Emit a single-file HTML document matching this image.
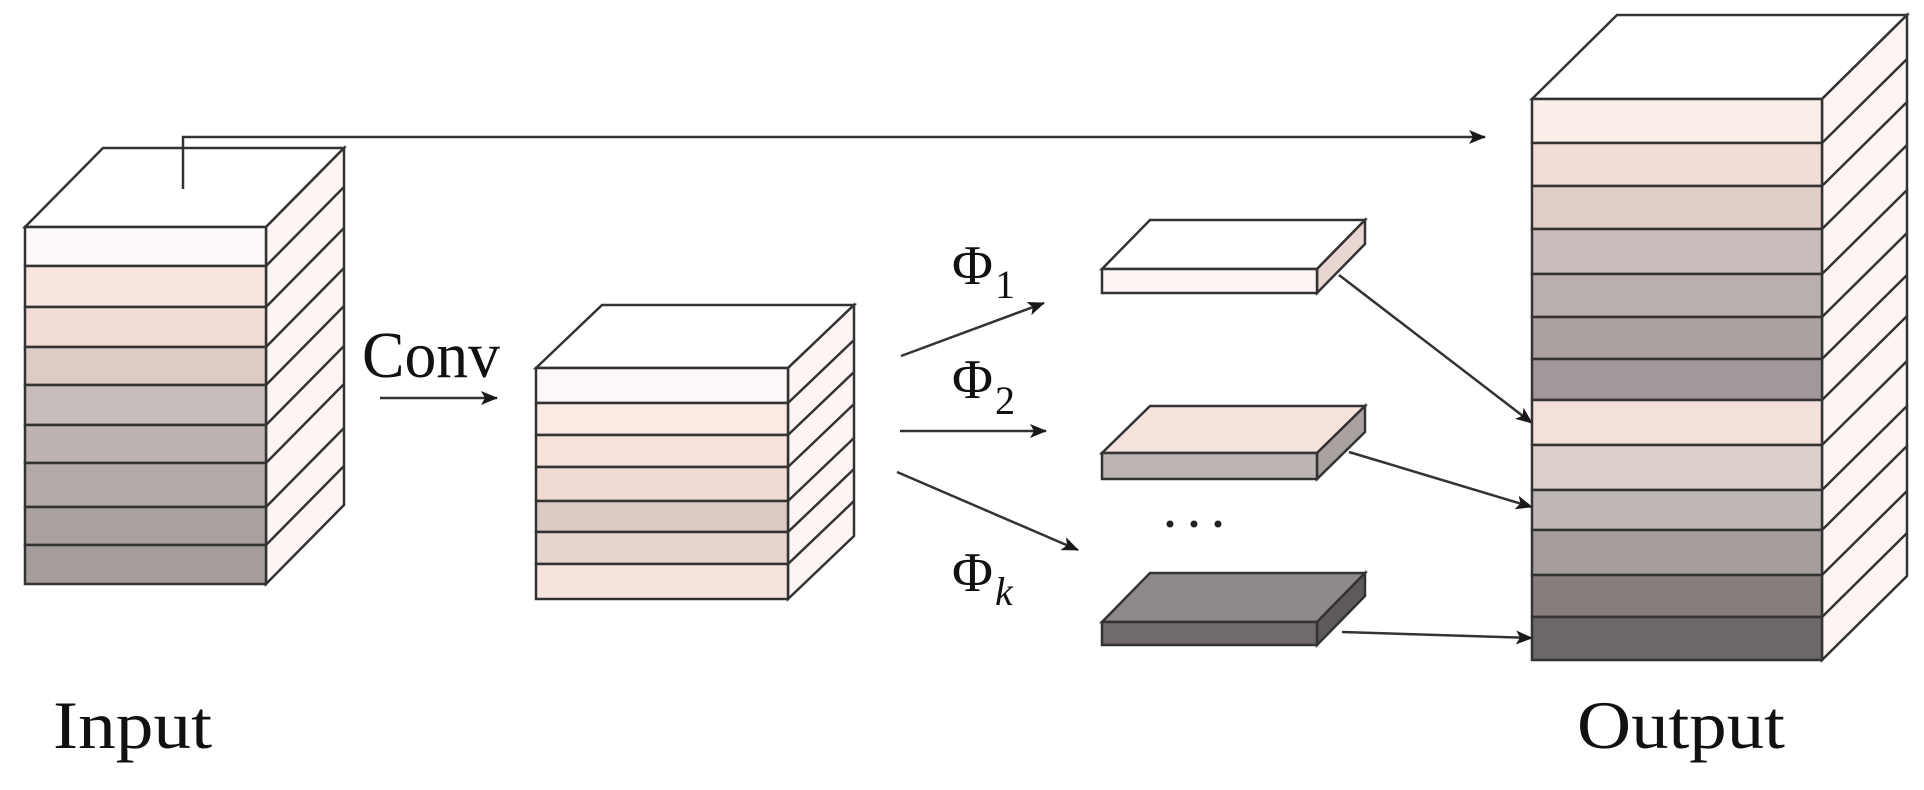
<!DOCTYPE html>
<html><head><meta charset="utf-8"><style>html,body{margin:0;padding:0;background:#fff}svg{display:block}</style></head>
<body>
<svg width="1924" height="790" viewBox="0 0 1924 790" xmlns="http://www.w3.org/2000/svg">
<defs>
<marker id="ah" markerWidth="18" markerHeight="14" refX="16" refY="7" orient="auto" markerUnits="userSpaceOnUse"><path d="M0,0 L17,7 L0,14 L4,7 Z" fill="#1a1a1a"/></marker>
</defs>
<g stroke="#333" stroke-width="2.5" fill="none">
<!-- INPUT BOX -->
<g>
<polygon points="25,227 103,148 344,148 266,227" fill="#fff"/>
<polygon points="266,227 344,148 344,505 266,584" fill="#fdf5f3"/>
<rect x="25" y="227" width="241" height="39" fill="#fdf9f8"/>
<rect x="25" y="266" width="241" height="41" fill="#fae6e0"/>
<rect x="25" y="307" width="241" height="40" fill="#f2dbd4"/>
<rect x="25" y="347" width="241" height="38" fill="#ddcbc6"/>
<rect x="25" y="385" width="241" height="40" fill="#c6bcba"/>
<rect x="25" y="425" width="241" height="38" fill="#bdb3b1"/>
<rect x="25" y="463" width="241" height="44" fill="#b3aaa8"/>
<rect x="25" y="507" width="241" height="38" fill="#aba2a0"/>
<rect x="25" y="545" width="241" height="39" fill="#a59d9b"/>
<path d="M266,266 L344,187 M266,307 L344,228 M266,347 L344,268 M266,385 L344,306 M266,425 L344,346 M266,463 L344,384 M266,507 L344,428 M266,545 L344,466"/>
</g>
<!-- skip connection -->
<path d="M183,189 L183,137 L1485,137" marker-end="url(#ah)"/>
<!-- conv arrow -->
<path d="M380,398 L497,398" marker-end="url(#ah)"/>
<!-- MIDDLE BOX -->
<g>
<polygon points="536,368 602,305 854,305 788,368" fill="#fff"/>
<polygon points="788,368 854,305 854,536 788,599" fill="#fdf5f3"/>
<rect x="536" y="368" width="252" height="35" fill="#fdf8f7"/>
<rect x="536" y="403" width="252" height="32" fill="#fbe9e3"/>
<rect x="536" y="435" width="252" height="32" fill="#f8e3dc"/>
<rect x="536" y="467" width="252" height="34" fill="#efdbd4"/>
<rect x="536" y="501" width="252" height="31" fill="#dccac5"/>
<rect x="536" y="532" width="252" height="32" fill="#e6d4cf"/>
<rect x="536" y="564" width="252" height="35" fill="#f7e4de"/>
<path d="M788,403 L854,340 M788,435 L854,372 M788,467 L854,404 M788,501 L854,438 M788,532 L854,469 M788,564 L854,501"/>
</g>
<!-- phi arrows -->
<path d="M901,356 L1044,303" marker-end="url(#ah)"/>
<path d="M900,431 L1046,431" marker-end="url(#ah)"/>
<path d="M897,472 L1078,550" marker-end="url(#ah)"/>
<!-- SLABS -->
<polygon points="1102,269 1150,220 1365,220 1317,269" fill="#fff"/>
<polygon points="1317,269 1365,220 1365,244 1317,293" fill="#ead6d1"/>
<rect x="1102" y="269" width="215" height="24" fill="#fdf6f4"/>

<polygon points="1102,453 1150,406 1365,406 1317,453" fill="#f7e3dd"/>
<polygon points="1317,453 1365,406 1365,432 1317,479" fill="#aaa2a0"/>
<rect x="1102" y="453" width="215" height="26" fill="#bdb5b3"/>

<polygon points="1102,622 1150,573 1365,573 1317,622" fill="#8f8989"/>
<polygon points="1317,622 1365,573 1365,596 1317,645" fill="#5e5a59"/>
<rect x="1102" y="622" width="215" height="23" fill="#706b6a"/>
<!-- slab to output arrows -->
<path d="M1339,275 L1532,423" marker-end="url(#ah)"/>
<path d="M1349,452 L1532,507" marker-end="url(#ah)"/>
<path d="M1342,632 L1532,638" marker-end="url(#ah)"/>
<!-- OUTPUT BOX -->
<g>
<polygon points="1532,99 1617,15 1907,15 1822,99" fill="#fff"/>
<polygon points="1822,99 1907,15 1907,576 1822,660" fill="#fdf5f3"/>
<rect x="1532" y="99" width="290" height="44" fill="#fbeee9"/>
<rect x="1532" y="143" width="290" height="43" fill="#f3dcd5"/>
<rect x="1532" y="186" width="290" height="43" fill="#e2cec8"/>
<rect x="1532" y="229" width="290" height="45" fill="#c8bdbb"/>
<rect x="1532" y="274" width="290" height="43" fill="#b9afad"/>
<rect x="1532" y="317" width="290" height="42" fill="#aaa1a0"/>
<rect x="1532" y="359" width="290" height="41" fill="#a19999"/>
<rect x="1532" y="400" width="290" height="45" fill="#f4e0da"/>
<rect x="1532" y="445" width="290" height="45" fill="#dcd0cc"/>
<rect x="1532" y="490" width="290" height="40" fill="#c0b8b7"/>
<rect x="1532" y="530" width="290" height="45" fill="#a69e9d"/>
<rect x="1532" y="575" width="290" height="42" fill="#857e7d"/>
<rect x="1532" y="617" width="290" height="43" fill="#6d6867"/>
<path d="M1822,143 L1907,59 M1822,186 L1907,102 M1822,229 L1907,145 M1822,274 L1907,190 M1822,317 L1907,233 M1822,359 L1907,275 M1822,400 L1907,316 M1822,445 L1907,361 M1822,490 L1907,406 M1822,530 L1907,446 M1822,575 L1907,491 M1822,617 L1907,533"/>
</g>
</g>
<g fill="#222"><circle cx="1170" cy="524" r="3.5"/><circle cx="1194" cy="524" r="3.5"/><circle cx="1218" cy="524" r="3.5"/></g>
<g font-family="'Liberation Serif', serif" fill="#111">
<text x="362" y="377" font-size="66" textLength="138" lengthAdjust="spacingAndGlyphs">Conv</text>
<text x="952" y="284" font-size="56">Φ</text><text x="995" y="298" font-size="40">1</text>
<text x="952" y="398" font-size="56">Φ</text><text x="995" y="414" font-size="40">2</text>
<text x="952" y="591" font-size="56">Φ</text><text x="995" y="605" font-size="40" font-style="italic">k</text>
<text x="53" y="748" font-size="68" textLength="159" lengthAdjust="spacingAndGlyphs">Input</text>
<text x="1577" y="748" font-size="68" textLength="208" lengthAdjust="spacingAndGlyphs">Output</text>
</g>
</svg>
</body></html>
